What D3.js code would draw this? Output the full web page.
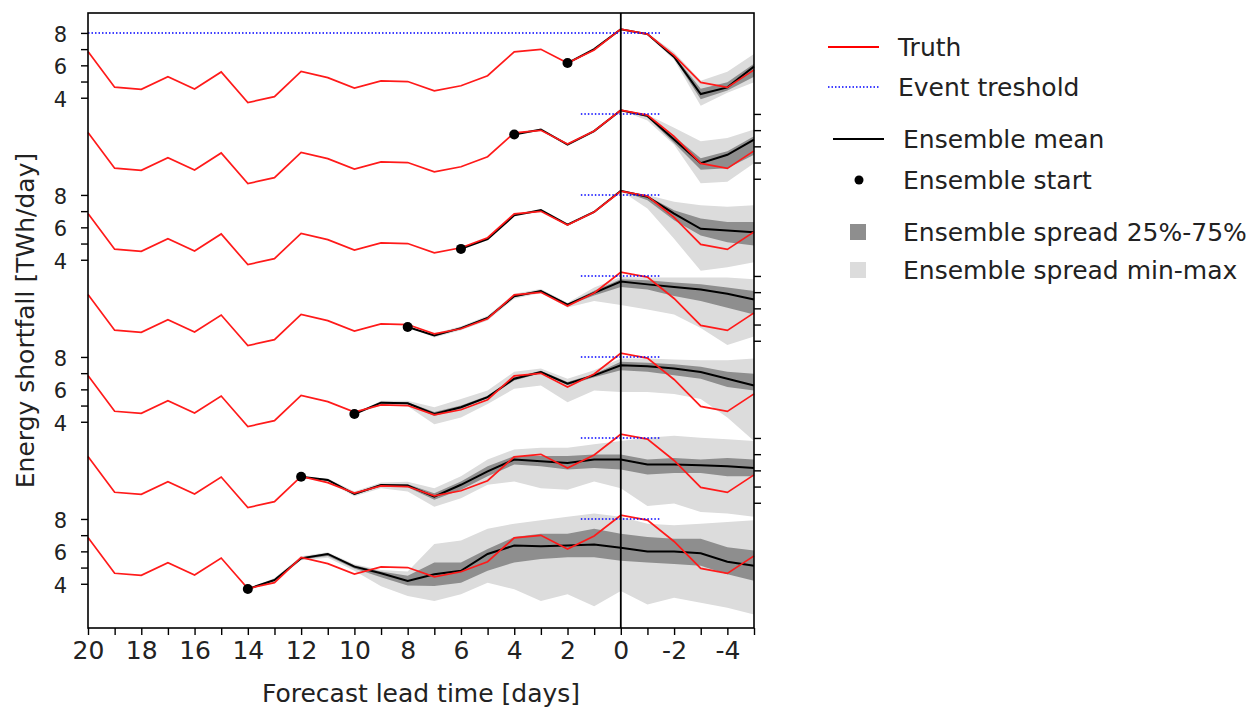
<!DOCTYPE html>
<html lang="en">
<head>
<meta charset="UTF-8" />
<title>Energy shortfall forecast</title>
<script src="https://d3js.org/d3.v7.min.js"></script>
<style>
  body { margin: 0; padding: 0; background: #fff; }
  svg text { font-family: 'DejaVu Sans', sans-serif; fill: #222; }
</style>
</head>
<body>
<svg id="chart" width="1248" height="711"></svg>
<script>
// lead time in days (x categories)
const days = [20, 19, 18, 17, 16, 15, 14, 13, 12, 11, 10, 9, 8, 7, 6, 5, 4, 3, 2, 1, 0, -1, -2, -3, -4, -5];
const xTickLabels = ['20', '18', '16', '14', '12', '10', '8', '6', '4', '2', '0', '-2', '-4'];

// observed energy shortfall, same in every row
const truth = [6.85, 4.65, 4.52, 5.30, 4.54, 5.59, 3.70, 4.07, 5.63, 5.24, 4.60, 5.04, 5.00,
               4.43, 4.74, 5.36, 6.83, 6.99, 6.14, 6.95, 8.23, 7.93, 6.61, 4.95, 4.64, 5.72];

// one row per forecast start, top to bottom
const startDays = [2, 4, 6, 8, 10, 12, 14];
const rowOffsets = [30, 25, 20, 15, 10, 5, 0];
const threshold = 8;
const thresholdFrom = [20, 1.5, 1.5, 1.5, 1.5, 1.5, 1.5];
const thresholdTo = -1.5;
const yTickValues = [4, 5, 6, 7, 8];

// ensemble statistics from start day down to -5
const ensMean = [
  [6.14, 7.0, 8.23, 7.93, 6.52, 4.23, 4.64, 5.93],
  [6.73, 7.04, 6.1, 6.94, 8.23, 7.88, 6.42, 4.96, 5.48, 6.42],
  [4.67, 5.28, 6.74, 7.06, 6.16, 6.95, 8.26, 7.89, 6.85, 5.91, 5.81, 5.7],
  [4.85, 4.32, 4.78, 5.41, 6.75, 7.07, 6.23, 6.96, 7.65, 7.48, 7.32, 7.17, 6.9, 6.55],
  [4.48, 5.18, 5.14, 4.48, 4.9, 5.52, 6.66, 7.07, 6.35, 6.86, 7.49, 7.43, 7.28, 7.07, 6.66, 6.24],
  [5.61, 5.41, 4.54, 5.1, 5.06, 4.38, 5.11, 5.94, 6.67, 6.57, 6.46, 6.67, 6.67, 6.36, 6.36, 6.31, 6.25, 6.15],
  [3.68, 4.23, 5.57, 5.84, 5.06, 4.65, 4.17, 4.59, 4.8, 5.84, 6.36, 6.32, 6.36, 6.43, 6.22, 5.99, 5.99, 5.88, 5.36, 5.11]
];
const ensMin = [
  [6.14, 7.0, 8.23, 7.85, 6.35, 3.5, 4.3, 4.95],
  [6.73, 7.04, 6.1, 6.94, 8.23, 7.6, 6.1, 3.72, 3.82, 4.96],
  [4.67, 5.28, 6.74, 7.06, 6.16, 6.95, 8.26, 7.16, 5.29, 3.32, 3.53, 3.84],
  [4.85, 4.2, 4.65, 5.25, 6.6, 6.95, 6.05, 6.45, 6.2, 5.93, 5.62, 4.78, 3.74, 4.26],
  [4.48, 5.0, 4.95, 3.85, 4.27, 5.1, 6.04, 6.24, 5.2, 5.93, 5.83, 5.83, 5.72, 5.41, 4.27, 2.81],
  [5.61, 5.3, 4.4, 4.9, 4.7, 3.76, 4.28, 5.11, 5.32, 4.9, 4.8, 5.32, 4.9, 3.8, 3.96, 3.43, 3.33, 3.14],
  [3.68, 4.1, 5.45, 5.6, 4.8, 3.85, 3.25, 2.93, 3.35, 4.07, 3.66, 2.93, 3.35, 2.62, 3.55, 2.72, 3.14, 2.83, 2.52, 2.1]
];
const ensMax = [
  [6.14, 7.0, 8.23, 8.0, 6.8, 5.05, 5.6, 6.7],
  [6.73, 7.04, 6.1, 6.94, 8.23, 7.95, 7.15, 6.31, 6.52, 7.04],
  [4.67, 5.28, 6.74, 7.06, 6.16, 6.95, 8.26, 7.99, 7.58, 7.37, 7.27, 7.37],
  [4.85, 4.45, 4.9, 5.55, 6.9, 7.2, 6.35, 7.28, 7.94, 7.9, 7.9, 7.9, 7.9, 7.8],
  [4.48, 5.3, 5.3, 4.89, 5.41, 5.93, 7.08, 7.28, 6.66, 7.18, 7.91, 7.91, 7.84, 7.8, 7.8, 7.91],
  [5.61, 5.5, 4.7, 5.25, 5.3, 4.9, 5.63, 6.67, 7.29, 7.4, 7.4, 7.61, 7.81, 8.02, 8.13, 8.02, 7.92, 7.81],
  [3.68, 4.35, 5.7, 5.95, 5.2, 4.85, 4.75, 6.46, 6.67, 7.4, 7.71, 7.92, 8.13, 8.33, 8.13, 7.71, 7.61, 7.71, 7.82, 7.92]
];
const ensQ25 = [
  [6.14, 7.0, 8.23, 7.9, 6.45, 3.9, 4.45, 5.3],
  [6.73, 7.04, 6.1, 6.94, 8.23, 7.8, 6.2, 4.55, 4.65, 5.48],
  [4.67, 5.28, 6.74, 7.06, 6.16, 6.95, 8.26, 7.68, 6.44, 5.5, 5.08, 4.88],
  [4.85, 4.28, 4.74, 5.36, 6.7, 7.03, 6.18, 6.8, 7.32, 7.17, 6.76, 6.45, 6.03, 5.62],
  [4.48, 5.12, 5.08, 4.35, 4.8, 5.45, 6.55, 7.0, 6.25, 6.75, 7.18, 7.08, 6.87, 6.66, 6.14, 5.93],
  [5.61, 5.36, 4.48, 5.02, 4.95, 4.18, 4.8, 5.63, 6.36, 6.26, 6.05, 6.15, 6.05, 5.74, 5.84, 5.84, 5.63, 5.63],
  [3.68, 4.18, 5.5, 5.72, 4.95, 4.4, 3.9, 3.87, 4.07, 4.8, 5.32, 5.53, 5.63, 5.63, 5.42, 5.32, 5.22, 5.11, 4.59, 4.18]
];
const ensQ75 = [
  [6.14, 7.0, 8.23, 7.95, 6.6, 4.55, 4.95, 6.1],
  [6.73, 7.04, 6.1, 6.94, 8.23, 7.92, 6.63, 5.27, 5.69, 6.63],
  [4.67, 5.28, 6.74, 7.06, 6.16, 6.95, 8.26, 7.93, 7.06, 6.54, 6.33, 6.33],
  [4.85, 4.36, 4.82, 5.46, 6.8, 7.11, 6.28, 7.08, 7.8, 7.74, 7.59, 7.49, 7.28, 7.07],
  [4.48, 5.24, 5.2, 4.6, 5.0, 5.6, 6.75, 7.15, 6.45, 6.95, 7.7, 7.64, 7.55, 7.39, 7.08, 6.97],
  [5.61, 5.46, 4.6, 5.16, 5.15, 4.59, 5.32, 6.26, 6.88, 6.88, 6.88, 6.98, 6.98, 6.67, 6.77, 6.67, 6.77, 6.67],
  [3.68, 4.28, 5.64, 5.9, 5.15, 4.75, 4.5, 5.32, 5.32, 6.15, 6.88, 7.09, 7.09, 7.4, 7.09, 6.88, 6.78, 6.78, 6.26, 6.05]
];

const legendItems = [
  { kind: 'line', label: 'Truth', color: 'red', dash: null },
  { kind: 'line', label: 'Event treshold', color: 'blue', dash: '1.5,2' },
  { kind: 'line', label: 'Ensemble mean', color: '#000', dash: null },
  { kind: 'dot', label: 'Ensemble start' },
  { kind: 'box', label: 'Ensemble spread 25%-75%', color: '#8e8e8e' },
  { kind: 'box', label: 'Ensemble spread min-max', color: '#dcdcdc' }
];

const svg = d3.select('#chart');
const plot = { left: 88, right: 754, top: 13, bottom: 628 };

const x = d3.scaleLinear().domain([20, -5]).range([plot.left, plot.right]);
const y = d3.scaleLinear().domain([1.27, 39.23]).range([plot.bottom, plot.top]);

const lightColor = '#dcdcdc';
const darkColor = '#8e8e8e';

const g = svg.append('g');

startDays.forEach((start, r) => {
  const off = rowOffsets[r];
  const ens = ensMean[r].map((m, i) => ({
    day: start - i,
    mean: m,
    lo: ensMin[r][i],
    hi: ensMax[r][i],
    q25: ensQ25[r][i],
    q75: ensQ75[r][i]
  }));

  const band = (a, b) => d3.area()
    .x(d => x(d.day))
    .y0(d => y(d[a] + off))
    .y1(d => y(d[b] + off));

  g.append('path').datum(ens).attr('d', band('lo', 'hi')).attr('fill', lightColor);
  g.append('path').datum(ens).attr('d', band('q25', 'q75')).attr('fill', darkColor);

  g.append('path').datum(ens)
    .attr('d', d3.line().x(d => x(d.day)).y(d => y(d.mean + off)))
    .attr('fill', 'none').attr('stroke', '#000').attr('stroke-width', 2);

  const tr = days.map((d, i) => ({ day: d, v: truth[i] }));
  g.append('path').datum(tr)
    .attr('d', d3.line().x(d => x(d.day)).y(d => y(d.v + off)))
    .attr('fill', 'none').attr('stroke', '#ff1a1a').attr('stroke-width', 1.7);

  g.append('line')
    .attr('x1', x(thresholdFrom[r])).attr('x2', x(thresholdTo))
    .attr('y1', y(threshold + off)).attr('y2', y(threshold + off))
    .attr('stroke', 'blue').attr('stroke-width', 1.5).attr('stroke-dasharray', '1.5,2');

  g.append('circle')
    .attr('cx', x(start)).attr('cy', y(ensMean[r][0] + off))
    .attr('r', 5).attr('fill', '#000');

  // y ticks: left side for rows 0,2,4,6, right side for 1,3,5
  const vals = yTickValues.map(v => v + off);
  const fmt = d => { const v = d - off; return v % 2 === 0 ? String(v) : ''; };
  if (r % 2 === 0) {
    const ax = svg.append('g')
      .attr('transform', `translate(${plot.left},0)`)
      .call(d3.axisLeft(y).tickValues(vals).tickFormat(fmt).tickSize(7).tickPadding(14));
    ax.select('.domain').remove();
    ax.selectAll('line').attr('stroke', '#000').attr('stroke-width', 1.4);
    ax.selectAll('text').attr('font-size', 21).attr('dy', '0.4em');
  } else {
    const ax = svg.append('g')
      .attr('transform', `translate(${plot.right},0)`)
      .call(d3.axisRight(y).tickValues(vals).tickFormat('').tickSize(7));
    ax.select('.domain').remove();
    ax.selectAll('line').attr('stroke', '#000').attr('stroke-width', 1.4);
  }
});

// zero lead time marker
svg.append('line')
  .attr('x1', x(0)).attr('x2', x(0))
  .attr('y1', plot.top).attr('y2', plot.bottom)
  .attr('stroke', '#000').attr('stroke-width', 1.8);

// frame
svg.append('rect')
  .attr('x', plot.left).attr('y', plot.top)
  .attr('width', plot.right - plot.left).attr('height', plot.bottom - plot.top)
  .attr('fill', 'none').attr('stroke', '#000').attr('stroke-width', 1.6);

// x axis
const xa = svg.append('g')
  .attr('transform', `translate(0,${plot.bottom})`)
  .call(d3.axisBottom(x).tickValues(days)
    .tickFormat(d => xTickLabels.includes(String(d)) ? String(d) : '')
    .tickSize(7).tickPadding(6));
xa.select('.domain').remove();
xa.selectAll('line').attr('stroke', '#000').attr('stroke-width', 1.4);
xa.selectAll('text').attr('font-size', 25);

svg.append('text')
  .attr('x', (plot.left + plot.right) / 2).attr('y', 702)
  .attr('text-anchor', 'middle').attr('font-size', 25)
  .text('Forecast lead time [days]');

svg.append('text')
  .attr('transform', `translate(34,${(plot.top + plot.bottom) / 2}) rotate(-90)`)
  .attr('text-anchor', 'middle').attr('font-size', 25)
  .text('Energy shortfall [TWh/day]');

// legend
const legendY = [47, 87, 139, 180, 232, 270];
const legend = svg.append('g');
legendItems.forEach((it, i) => {
  const cy = legendY[i];
  const textX = i < 2 ? 898 : 903;
  if (it.kind === 'line') {
    const x0 = i < 2 ? 828 : 833;
    legend.append('line')
      .attr('x1', x0).attr('x2', x0 + 51).attr('y1', cy).attr('y2', cy)
      .attr('stroke', it.color).attr('stroke-width', it.dash ? 1.5 : 1.8)
      .attr('stroke-dasharray', it.dash);
  } else if (it.kind === 'dot') {
    legend.append('circle').attr('cx', 859).attr('cy', cy).attr('r', 4.5).attr('fill', '#000');
  } else {
    legend.append('rect').attr('x', 850).attr('y', cy - 8).attr('width', 16).attr('height', 16)
      .attr('fill', it.color);
  }
  legend.append('text')
    .attr('x', textX).attr('y', cy + 8.5)
    .attr('font-size', 25)
    .text(it.label);
});
</script>
</body>
</html>
